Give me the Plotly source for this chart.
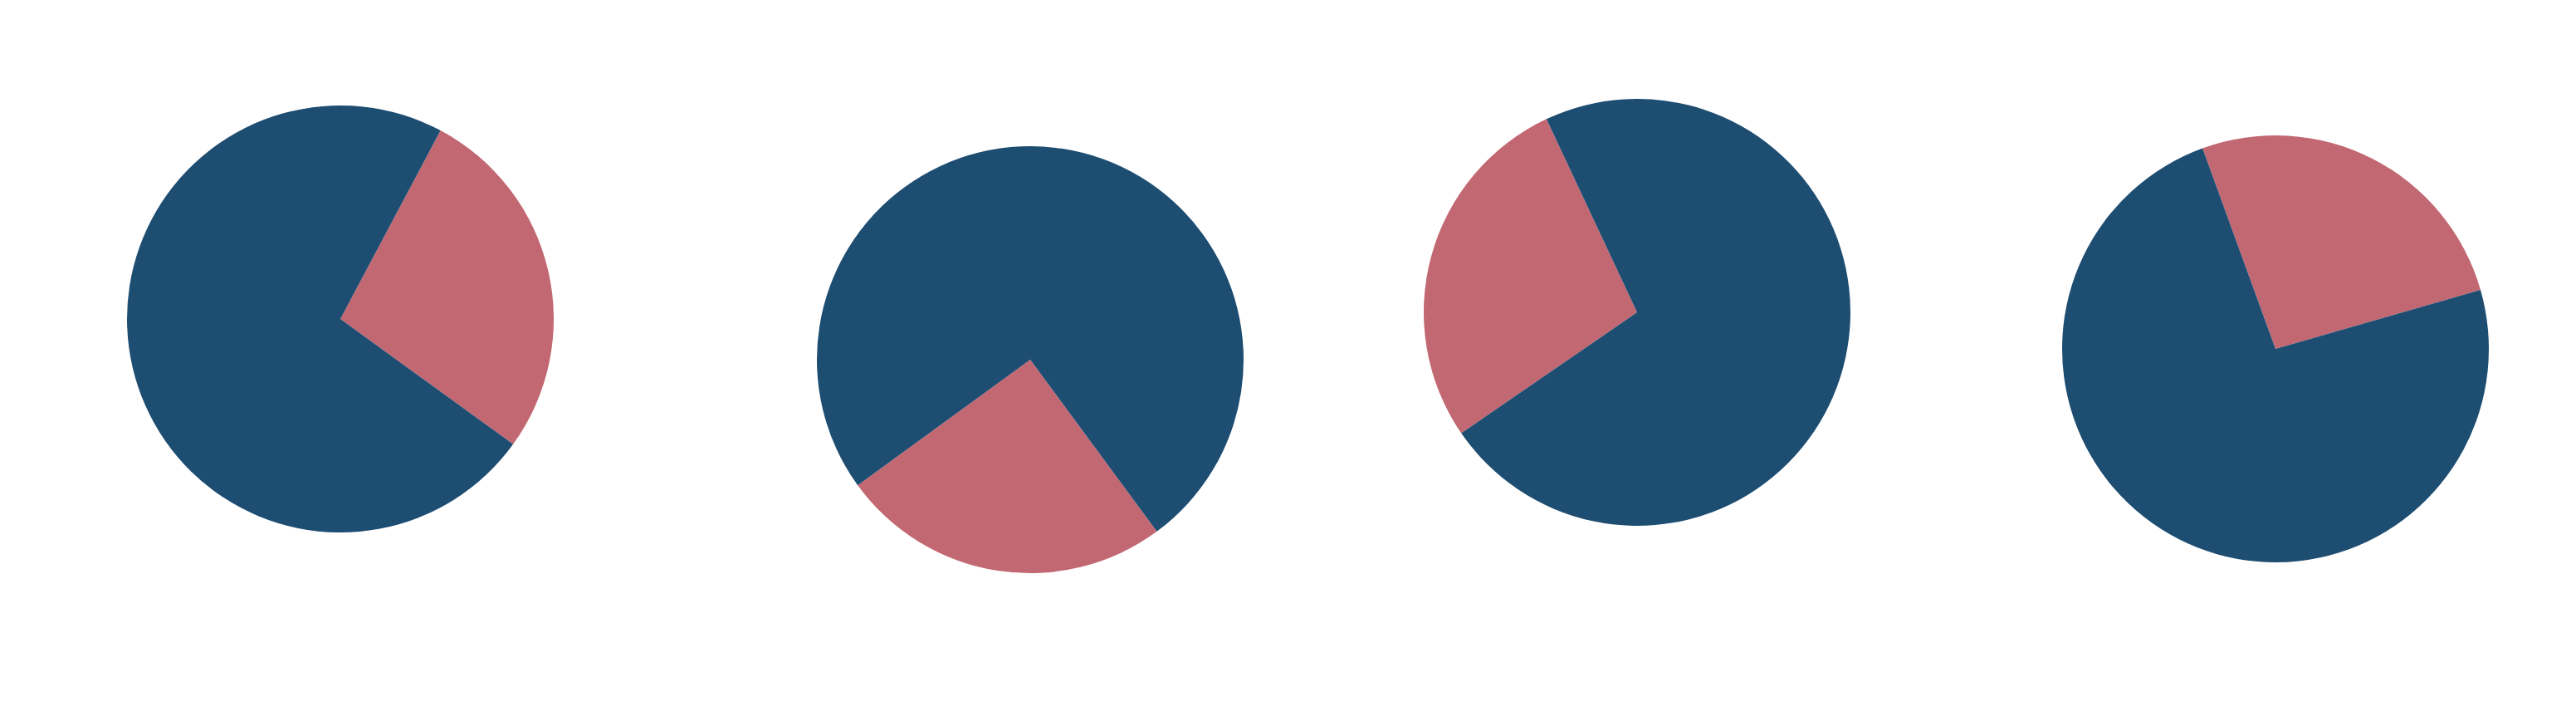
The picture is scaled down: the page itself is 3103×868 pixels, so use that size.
import plotly.graph_objects as go

# four paper pies, pink share vs. navy rest (values in percent)
labels = ["pink", "navy"]
pink_share = [27.2, 25.1, 27.6, 26.1]
navy_share = [100 - v for v in pink_share]
start_angle = [28, 143.6, 235.5, 340]   # clockwise from 12 o'clock, where pink starts

W, H = 3103, 868
centres = [(410, 384), (1241, 433), (1972, 376), (2741, 420)]
radius = 257

NAVY = "#1e4d72"
PINK = "#c26872"


def pie_domain(cx, cy, r):
    return dict(x=[(cx - r) / W, (cx + r) / W],
                y=[1 - (cy + r) / H, 1 - (cy - r) / H])


fig = go.Figure()
for i in range(len(pink_share)):
    cx, cy = centres[i]
    fig.add_trace(go.Pie(
        labels=labels,
        values=[pink_share[i], navy_share[i]],
        sort=False,
        direction="clockwise",
        rotation=start_angle[i],
        textinfo="none",
        hoverinfo="none",
        marker=dict(colors=[PINK, NAVY], line=dict(width=0)),
        domain=pie_domain(cx, cy, radius),
        showlegend=False,
    ))

fig.update_layout(width=W, height=H,
                  margin=dict(l=0, r=0, t=0, b=0),
                  paper_bgcolor="white",
                  plot_bgcolor="white")

# the browser's default body margin would shift everything by 8px
fig.write_html("out.html",
               config={"displayModeBar": False},
               post_script="document.body.style.margin = '0';")
